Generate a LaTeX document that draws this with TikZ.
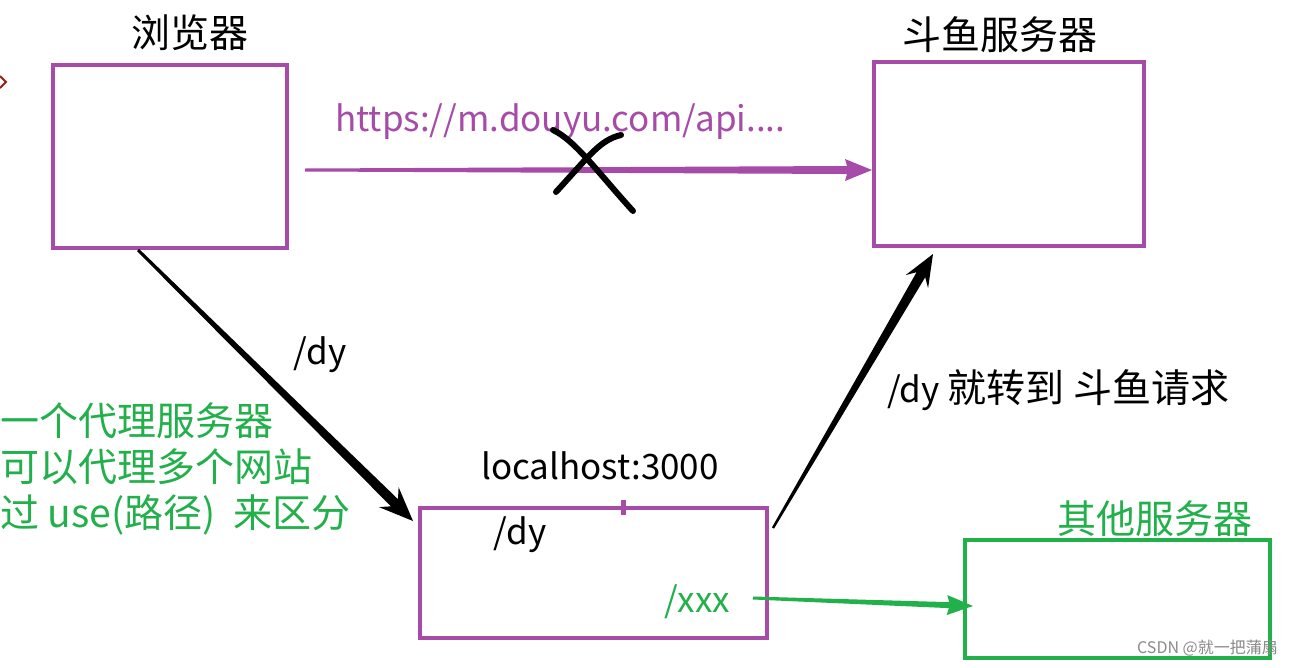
\documentclass[tikz,border=0pt]{standalone}
\usepackage{fontspec}
\setmainfont{Noto Sans CJK SC}
\usetikzlibrary{calc}
\definecolor{pbox}{HTML}{A64CA8}
\definecolor{gbox}{HTML}{22B04B}
\definecolor{wm}{HTML}{8A8A8A}
\definecolor{dred}{HTML}{9B1C1C}
\tikzset{
  pboxst/.style={draw=pbox,line width=4pt},
  gboxst/.style={draw=gbox,line width=4pt},
  lbl/.style={inner sep=0pt,font=\fontsize{39}{44}\selectfont},
  llat/.style={inner sep=0pt,font=\fontsize{35}{40}\selectfont},
  glbl/.style={lbl,text=gbox,anchor=west},
  crossst/.style={draw=black,line width=6pt,line cap=round},
}
% tapered arrow: #1 colour, #2 start, #3 end, #4 start half-width, #5 end half-width,
% #6 head length, #7 head half-width, #8 shaft end distance from tip
\newcommand\tparr[8]{%
  \fill[#1] ($(#2)!#4!90:(#3)$) -- ($($(#3)!#8!(#2)$)!#5!-90:(#2)$)
    -- ($($(#3)!#6!(#2)$)!#7!-90:(#2)$) -- (#3)
    -- ($($(#3)!#6!(#2)$)!#7!90:(#2)$) -- ($($(#3)!#8!(#2)$)!#5!90:(#2)$)
    -- ($(#2)!#4!-90:(#3)$) -- cycle;}
\begin{document}
\begin{tikzpicture}[x=1pt,y=-1pt]
\useasboundingbox (0,0) rectangle (1291,667);
\fill[white] (0,0) rectangle (1291,667);
% boxes
\draw[pboxst] (53,65) rectangle (287,248);
\draw[pboxst] (874,62) rectangle (1144,246);
\draw[pboxst] (420,508) rectangle (767,638);
\draw[gboxst] (965,540) rectangle (1270,658);
\node (browser) at (170,156.5) {};
\node (douyu) at (1009,154) {};
\node (proxy) at (593.5,573) {};
\node (other) at (1117.5,599) {};
% tick on proxy box
\draw[pbox,line width=5pt] (623,500) -- (623,515);
% small chevron at left edge
\draw[dred,line width=2pt] (0,76) -- (6,82) -- (0,88);
% labels
\node[lbl] (lbrowser) at (190,33) {浏览器};
\node[lbl] (ldouyu) at (1000,35) {斗鱼服务器};
\node[lbl,text=gbox] (lother) at (1155,519) {其他服务器};
\node[llat] (lproxy) at (600,466) {localhost:3000};
\node[llat] (ldy1) at (520,535) {/dy};
\node[llat,text=gbox] (lxxx) at (697,602) {/xxx};
\node[llat,text=pbox,anchor=west] (lurl) at (335,122) {https://m.douyu.com/api....};
\node[llat] (ldy2) at (320,355) {/dy};
\node[llat,anchor=west] (ldy3) at (887,390) {/dy {\fontsize{39}{44}\selectfont 就转到 斗鱼请求}};
\node[glbl] (g1) at (0,421) {一个代理服务器};
\node[glbl] (g2) at (0,467) {可以代理多个网站};
\node[glbl] (g3) at (0,515) {过 use(路径)~ 来区分};
\node[inner sep=0pt,text=wm,font=\fontsize{16}{18}\selectfont,anchor=east] (wmark) at (1278,648) {CSDN @就一把蒲扇};
% connectors
\coordinate (a1s) at (305,170);
\coordinate (a1e) at (872,170);
\tparr{pbox}{a1s}{a1e}{1.5pt}{4pt}{27pt}{11pt}{25pt}
\coordinate (a2s) at (138,250);
\coordinate (a2e) at (413,521);
\tparr{black}{a2s}{a2e}{1.5pt}{5pt}{34pt}{14pt}{26pt}
\coordinate (a3s) at (773,528);
\coordinate (a3e) at (933,254);
\tparr{black}{a3s}{a3e}{1.2pt}{5pt}{32pt}{13pt}{24pt}
\coordinate (a4s) at (753,598);
\coordinate (a4e) at (973,606);
\tparr{gbox}{a4s}{a4e}{1.5pt}{3pt}{26pt}{10pt}{24pt}
% cross
\coordinate (c1a) at (556,192);
\coordinate (c1b) at (621,135);
\coordinate (c2a) at (553,130);
\coordinate (c2b) at (633,211);
\draw[crossst] (c1a) .. controls (590,155) and (600,140) .. (c1b);
\draw[crossst] (c2a) .. controls (575,140) and (600,175) .. (c2b);
\end{tikzpicture}
\end{document}
